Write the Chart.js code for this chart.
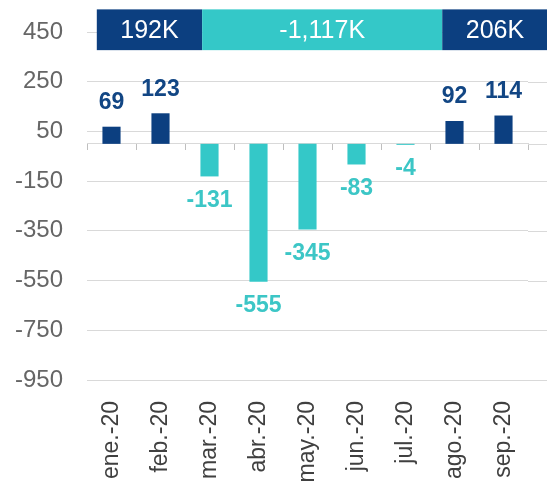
<!DOCTYPE html>
<html>
<head>
<meta charset="utf-8">
<script src="https://cdn.jsdelivr.net/npm/chart.js@4"></script>
<style>
  html, body { margin: 0; padding: 0; background: #fff; }
  #wrap { width: 547px; height: 485px; position: relative; }
</style>
</head>
<body>
<div id="wrap"><canvas id="chart"></canvas></div>
<script>
const months = ['ene.-20', 'feb.-20', 'mar.-20', 'abr.-20', 'may.-20', 'jun.-20', 'jul.-20', 'ago.-20', 'sep.-20'];
const netChange = [69, 123, -131, -555, -345, -83, -4, 92, 114];
const yTicks = [450, 250, 50, -150, -350, -550, -750, -950];

// summary band above the bars (ranges in category index units)
const bandLabels = ['192K', '-1,117K', '206K'];
const bandFrom = [-0.3, 1.85, 6.75];
const bandTo = [1.85, 6.75, 8.9];
const bandSign = [1, -1, 1];

const NAVY = '#0c3f80';
const TEAL = '#34c8c8';

function colorFor(v) {
  return v >= 0 ? NAVY : TEAL;
}

// extend grid lines and zero line to the right edge, like the original
const edgeLines = {
  id: 'edgeLines',
  beforeDatasetsDraw(chart) {
    const { ctx, chartArea, scales } = chart;
    ctx.save();
    ctx.lineWidth = 1;
    ctx.strokeStyle = '#d9d9d9';
    yTicks.concat([0]).forEach(v => {
      const y = Math.round(scales.y.getPixelForValue(v)) + 0.5;
      ctx.beginPath();
      ctx.moveTo(chartArea.right, y);
      ctx.lineTo(chart.width, y);
      ctx.stroke();
    });
    ctx.restore();
  }
};

const valueLabels = {
  id: 'valueLabels',
  afterDatasetsDraw(chart) {
    const { ctx } = chart;
    const meta = chart.getDatasetMeta(0);
    ctx.save();
    ctx.font = 'bold 23px "Liberation Sans", Arial, sans-serif';
    ctx.textAlign = 'center';
    ctx.textBaseline = 'middle';
    meta.data.forEach((bar, i) => {
      const v = netChange[i];
      ctx.fillStyle = v >= 0 ? '#124684' : '#3cc6c6';
      const y = v >= 0 ? bar.y - 24 : bar.y + 24;
      ctx.fillText(String(v), bar.x, y);
    });
    ctx.restore();
  }
};

const summaryBand = {
  id: 'summaryBand',
  afterDraw(chart) {
    const { ctx, scales } = chart;
    const top = scales.y.getPixelForValue(541);
    const bottom = scales.y.getPixelForValue(377);
    ctx.save();
    ctx.font = '25px "Liberation Sans", Arial, sans-serif';
    ctx.textAlign = 'center';
    ctx.textBaseline = 'middle';
    bandLabels.forEach((label, i) => {
      const x1 = scales.x.getPixelForValue(bandFrom[i]);
      const x2 = scales.x.getPixelForValue(bandTo[i]);
      ctx.fillStyle = bandSign[i] > 0 ? NAVY : TEAL;
      ctx.fillRect(x1, top, x2 - x1, bottom - top);
      ctx.fillStyle = '#ffffff';
      ctx.fillText(label, (x1 + x2) / 2, (top + bottom) / 2 + 1);
    });
    ctx.restore();
  }
};

const ctx = document.getElementById('chart').getContext('2d');
new Chart(ctx, {
  type: 'bar',
  data: {
    labels: months,
    datasets: [{
      data: netChange,
      backgroundColor: netChange.map(colorFor),
      barPercentage: 0.37,
      categoryPercentage: 1
    }]
  },
  options: {
    responsive: true,
    maintainAspectRatio: false,
    animation: false,
    layout: { padding: { top: 32, right: 19, left: 0, bottom: 0 } },
    plugins: {
      legend: { display: false },
      tooltip: { enabled: false }
    },
    scales: {
      x: {
        offset: true,
        grid: { display: false },
        border: { display: false },
        ticks: {
          minRotation: 90,
          maxRotation: 90,
          padding: 13,
          color: '#404040',
          font: { size: 23, family: '"Liberation Sans", Arial, sans-serif' }
        },
        afterFit(scale) { scale.height = 105; }
      },
      x2: {
        type: 'category',
        position: { y: 0 },
        offset: true,
        grid: {
          display: true,
          offset: true,
          drawOnChartArea: false,
          drawTicks: true,
          tickLength: 6,
          color: '#bfbfbf'
        },
        border: { display: true, color: '#d9d9d9' },
        ticks: { display: false }
      },
      y: {
        min: -950,
        max: 450,
        afterBuildTicks(scale) {
          scale.ticks = yTicks.map(v => ({ value: v }));
        },
        grid: { color: '#d9d9d9', drawTicks: false },
        border: { display: false },
        ticks: {
          padding: 24,
          color: '#666666',
          font: { size: 24, family: '"Liberation Sans", Arial, sans-serif' }
        },
        afterFit(scale) {
          scale.width = 87;
          scale.paddingTop = 0;
          scale.paddingBottom = 0;
        }
      }
    }
  },
  plugins: [edgeLines, valueLabels, summaryBand]
});
</script>
</body>
</html>
